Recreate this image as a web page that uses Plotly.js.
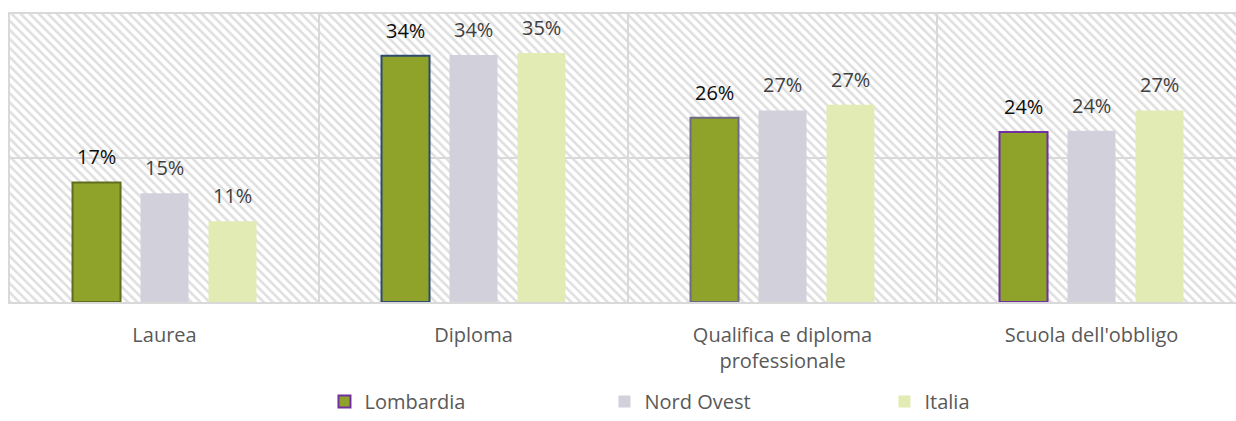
<!DOCTYPE html>
<html>
<head>
<meta charset="utf-8">
<script src="https://cdn.plot.ly/plotly-3.0.1.min.js"></script>
<style>html,body{margin:0;padding:0;background:#fff;}#chart{width:1236px;height:421px;}</style>
</head>
<body>
<div id="chart"></div>
<script>
// ---- data ----
const categories = ["Laurea", "Diploma", "Qualifica e diploma<br>professionale", "Scuola dell'obbligo"];
const seriesNames = ["Lombardia", "Nord Ovest", "Italia"];
const lombardia = [0.166, 0.342, 0.256, 0.236];
const nordOvest = [0.151, 0.343, 0.266, 0.238];
const italia = [0.112, 0.346, 0.274, 0.266];
const lombardiaBorders = ["#5E6E1E", "#2E4A70", "#6E6A8A", "#7030A0"];

// ---- style ----
const W = 1236, H = 421;
const margin = {l: 10, r: 0, t: 14, b: 119};
const xRange = [-0.5, 3.4676];
const bargap = 0.34;
const colors = ["#8FA22A", "#D2D0DB", "#E2EBB4"];
const labelColors = ["#0D0D0D", "#404040", "#404040"];
const font = "Open Sans, Noto Sans, sans-serif";

const plotW = W - margin.l - margin.r;
const catPx = plotW / (xRange[1] - xRange[0]);
const slotPx = catPx * (1 - bargap) / 3;

const allSeries = [lombardia, nordOvest, italia];

const traces = [
  {type: "bar", name: seriesNames[0], x: categories, y: lombardia, showlegend: false,
   marker: {color: colors[0], line: {color: lombardiaBorders, width: 2}}, hoverinfo: "skip"},
  {type: "bar", name: seriesNames[0], x: categories, y: categories.map(() => null), xaxis: "x2", yaxis: "y2",
   marker: {color: colors[0], line: {color: "#7030A0", width: 2}}, hoverinfo: "skip"},
  {type: "bar", name: seriesNames[1], x: categories, y: nordOvest,
   marker: {color: colors[1], line: {width: 0}}, hoverinfo: "skip"},
  {type: "bar", name: seriesNames[2], x: categories, y: italia,
   marker: {color: colors[2], line: {width: 0}}, hoverinfo: "skip"}
];

const annotations = [];
allSeries.forEach((vals, si) => {
  vals.forEach((v, ci) => {
    annotations.push({
      x: categories[ci], y: v, xref: "x", yref: "y",
      text: Math.round(v * 100) + "%", showarrow: false,
      xshift: (si - 1) * slotPx, yshift: 10, yanchor: "bottom",
      font: {family: font, size: 20, color: labelColors[si]}
    });
  });
});

// hatched background
const bgW = Math.round(plotW), bgH = H - margin.t - margin.b;
const svg = `<svg xmlns='http://www.w3.org/2000/svg' width='${bgW}' height='${bgH}' viewBox='0 0 ${bgW} ${bgH}'>` +
  `<defs><pattern id='p' width='6.4' height='6.4' patternUnits='userSpaceOnUse' patternTransform='rotate(-45)'>` +
  `<rect width='6.4' height='6.4' fill='#ffffff'/><rect x='0' y='0' width='2.6' height='6.4' fill='#e0e0e0'/></pattern></defs>` +
  `<rect width='100%' height='100%' fill='url(#p)'/></svg>`;
const bgSrc = "data:image/svg+xml;base64," + btoa(svg);

const layout = {
  width: W, height: H, margin: margin,
  paper_bgcolor: "#ffffff", plot_bgcolor: "rgba(0,0,0,0)",
  font: {family: font, size: 20, color: "#595959"},
  barmode: "group", bargap: bargap, bargroupgap: 0.294,
  xaxis: {range: xRange, type: "category", tickson: "boundaries", showgrid: true,
          gridcolor: "#d9d9d9", gridwidth: 1.5, ticks: "", showline: true, mirror: true,
          linecolor: "#d9d9d9", linewidth: 2, tickfont: {family: font, size: 20, color: "#595959"},
          ticklabelstandoff: 14, automargin: false, fixedrange: true},
  yaxis: {range: [0, 0.4], dtick: 0.2, showgrid: true, gridcolor: "#d9d9d9", gridwidth: 1.5,
          showticklabels: false, zeroline: false, showline: true, linecolor: "#d9d9d9", linewidth: 2,
          automargin: false, fixedrange: true},
  xaxis2: {overlaying: "x", visible: false, range: xRange, type: "category"},
  yaxis2: {overlaying: "y", visible: false, range: [0, 0.4]},
  legend: {orientation: "h", x: 0.2565, xanchor: "left", yref: "container", y: -0.014, yanchor: "bottom",
           font: {family: font, size: 20, color: "#595959"}, entrywidth: 235, entrywidthmode: "pixels",
           bgcolor: "rgba(0,0,0,0)"},
  images: [{source: bgSrc, xref: "paper", yref: "paper", x: 0, y: 1, sizex: 1, sizey: 1,
            xanchor: "left", yanchor: "top", sizing: "stretch", layer: "below"}],
  annotations: annotations,
  showlegend: true
};

Plotly.newPlot("chart", traces, layout, {displayModeBar: false, staticPlot: true});
</script>
</body>
</html>
